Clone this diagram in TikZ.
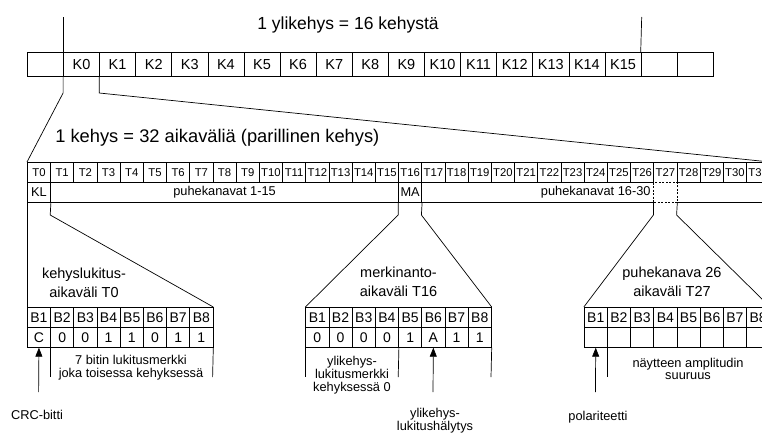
\documentclass[tikz,border=0pt]{standalone}
\usepackage{fontspec}
\setmainfont{Liberation Sans}
\usetikzlibrary{arrows.meta}
\begin{document}
\begin{tikzpicture}[x=1pt,y=-1pt, line width=0.7pt,
  kcell/.style={draw, minimum width=36.1pt, minimum height=24pt, inner sep=0pt, anchor=north west, font=\fontsize{14.5}{15}\selectfont},
  tcell/.style={draw, minimum width=23.2pt, minimum height=20pt, inner sep=0pt, anchor=north west, font=\fontsize{11.3}{12}\selectfont},
  rcell/.style={draw, minimum height=20pt, inner sep=0pt, anchor=north west, font=\fontsize{12.8}{13}\selectfont},
  bcell/.style={draw, minimum width=23.2pt, minimum height=20pt, inner sep=0pt, anchor=north west, font=\fontsize{14}{15}\selectfont},
  title/.style={font=\fontsize{17.5}{19}\selectfont, inner sep=0pt},
  boxtitle/.style={font=\fontsize{14.5}{19.5}\selectfont, align=center, inner sep=0pt},
  note/.style={font=\fontsize{12.8}{12.8}\selectfont, align=center, inner sep=0pt},
  upar/.style={-{Triangle[length=9pt,width=7pt]}}
]
\useasboundingbox (0,0) rectangle (762,437);
\clip (0,0) rectangle (762,437);

% ---- superframe row ----
\node[title] (ttl1) at (348,25) {1 ylikehys = 16 kehystä};
\foreach \l [count=\i from 0] in {{},K0,K1,K2,K3,K4,K5,K6,K7,K8,K9,K10,K11,K12,K13,K14,K15,{},{}}
  \node[kcell] (k\i) at ({27+36.1*\i},52) {\l};
\coordinate (sfa) at (63.1,17);
\coordinate (sfb) at (641.7,17);
\draw (sfa) -- (k1.north west);
\draw (sfb) -- (k17.north west);

% ---- frame row ----
\node[title, anchor=west, font=\fontsize{18.3}{19}\selectfont] (ttl2) at (55,138) {1 kehys = 32 aikaväliä (parillinen kehys)};
\foreach \i/\s in {0/0,1/0,2/0,3/2,4/0,5/2,6/0,7/2,8/0,9/0,10/2,11/0,12/0,13/0,14/0,15/0,
                   16/0,17/0,18/0,19/0,20/0,21/2,22/0,23/0,24/0,25/0,26/2,27/0,28/0,29/0,30/0,31/0}
  \node[tcell] (t\i) at ({27+23.2*\i},162) {\raisebox{-\s pt}{T\i}};
\node[rcell, minimum width=23.2pt] (kl) at (27,182) {KL};
\node[rcell, minimum width=348pt] (p1) at (50.2,182) {puhekanavat 1-15};
\node[rcell, minimum width=23.2pt] (ma) at (398.2,182) {MA};
\node[rcell, minimum width=348pt] (p2) at (421.4,182) {puhekanavat 16-30};
% dashed T27 slot in second row
\draw[white, line width=1.4pt] ([xshift=0.6pt]t27.south west) -- ([xshift=-0.6pt]t27.south east);
\draw[white, line width=1.4pt] ([xshift=0.6pt,yshift=-20pt]t27.south west) -- ([xshift=-0.6pt,yshift=-20pt]t27.south east);
\draw[dashed, dash pattern=on 2pt off 1.5pt, line width=0.6pt] (t27.south west) rectangle ([yshift=-20pt]t27.south east);
\coordinate (d27a) at ([yshift=-20pt]t27.south west);
\coordinate (d27b) at ([yshift=-20pt]t27.south east);

% zoom lines superframe -> frame
\coordinate (za) at (63.1,93);
\coordinate (zb) at (99.2,93);
\draw (k1.south west) -- (za) -- (t0.north west);
\draw (k2.south west) -- (zb) -- (t31.north east);

% ---- box 1: T0 ----
\foreach \l [count=\i from 0] in {B1,B2,B3,B4,B5,B6,B7,B8}
  \node[bcell] (a\i) at ({27+23.2*\i},307) {\l};
\foreach \l [count=\i from 0] in {C,0,0,1,1,0,1,1}
  \node[bcell] (av\i) at ({27+23.2*\i},327) {\l};
\coordinate (c1) at (50.2,215);
\draw (kl.south west) -- (a0.north west);
\draw (kl.south east) -- (c1) -- (a7.north east);
\node[boxtitle] (bt1) at (84,283) {kehyslukitus-\\aikaväli T0};
\coordinate (br1a) at (50.2,377);
\coordinate (br1b) at (212.6,377);
\draw (av1.south west) -- (br1a);
\draw (av7.south east) -- (br1b);
\node[note] (n1) at (131,368) {7 bitin lukitusmerkki\\joka toisessa kehyksessä};
\node[note] (crc) at (37,415) {CRC-bitti};
\coordinate (ar1) at (38.6,392);
\draw[upar] (ar1) -- (av0.south);

% ---- box 2: T16 ----
\foreach \l [count=\i from 0] in {B1,B2,B3,B4,B5,B6,B7,B8}
  \node[bcell] (b\i) at ({305.4+23.2*\i},307) {\l};
\foreach \l [count=\i from 0] in {0,0,0,0,1,A,1,1}
  \node[bcell] (bv\i) at ({305.4+23.2*\i},327) {\l};
\coordinate (c2a) at (398.2,215);
\coordinate (c2b) at (421.4,215);
\draw (ma.south west) -- (c2a) -- (b0.north west);
\draw (ma.south east) -- (c2b) -- (b7.north east);
\node[boxtitle] (bt2) at (398.5,282) {merkinanto-\\aikaväli T16};
\coordinate (br2a) at (305.4,377);
\coordinate (br2b) at (398.2,377);
\coordinate (br2c) at (491,377);
\draw (bv0.south west) -- (br2a);
\draw (bv3.south east) -- (br2b);
\draw (bv7.south east) -- (br2c);
\node[note] (n2) at (352,375) {ylikehys-\\lukitusmerkki\\kehyksessä 0};
\coordinate (ar2) at (433,392);
\draw[upar] (ar2) -- (bv5.south);
\node[note] (n3) at (435,421) {ylikehys-\\lukitushälytys};

% ---- box 3: T27 ----
\foreach \l [count=\i from 0] in {B1,B2,B3,B4,B5,B6,B7,B8}
  \node[bcell] (c\i) at ({583.8+23.2*\i},307) {\l};
\foreach \i in {0,...,7}
  \node[bcell] (cv\i) at ({583.8+23.2*\i},327) {};
\coordinate (c3a) at (653.4,215);
\coordinate (c3b) at (676.6,215);
\draw (d27a) -- (c3a) -- (c0.north west);
\draw (d27b) -- (c3b) -- (c7.north east);
\node[boxtitle] (bt3) at (672,282) {puhekanava 26\\aikaväli T27};
\coordinate (br3a) at (607,377);
\draw (cv1.south west) -- (br3a);
\node[note] (n4) at (688,369) {näytteen amplitudin\\suuruus};
\coordinate (ar3) at (595.4,392);
\draw[upar] (ar3) -- (cv0.south);
\node[note] (pol) at (598,417) {polariteetti};
\end{tikzpicture}
\end{document}
